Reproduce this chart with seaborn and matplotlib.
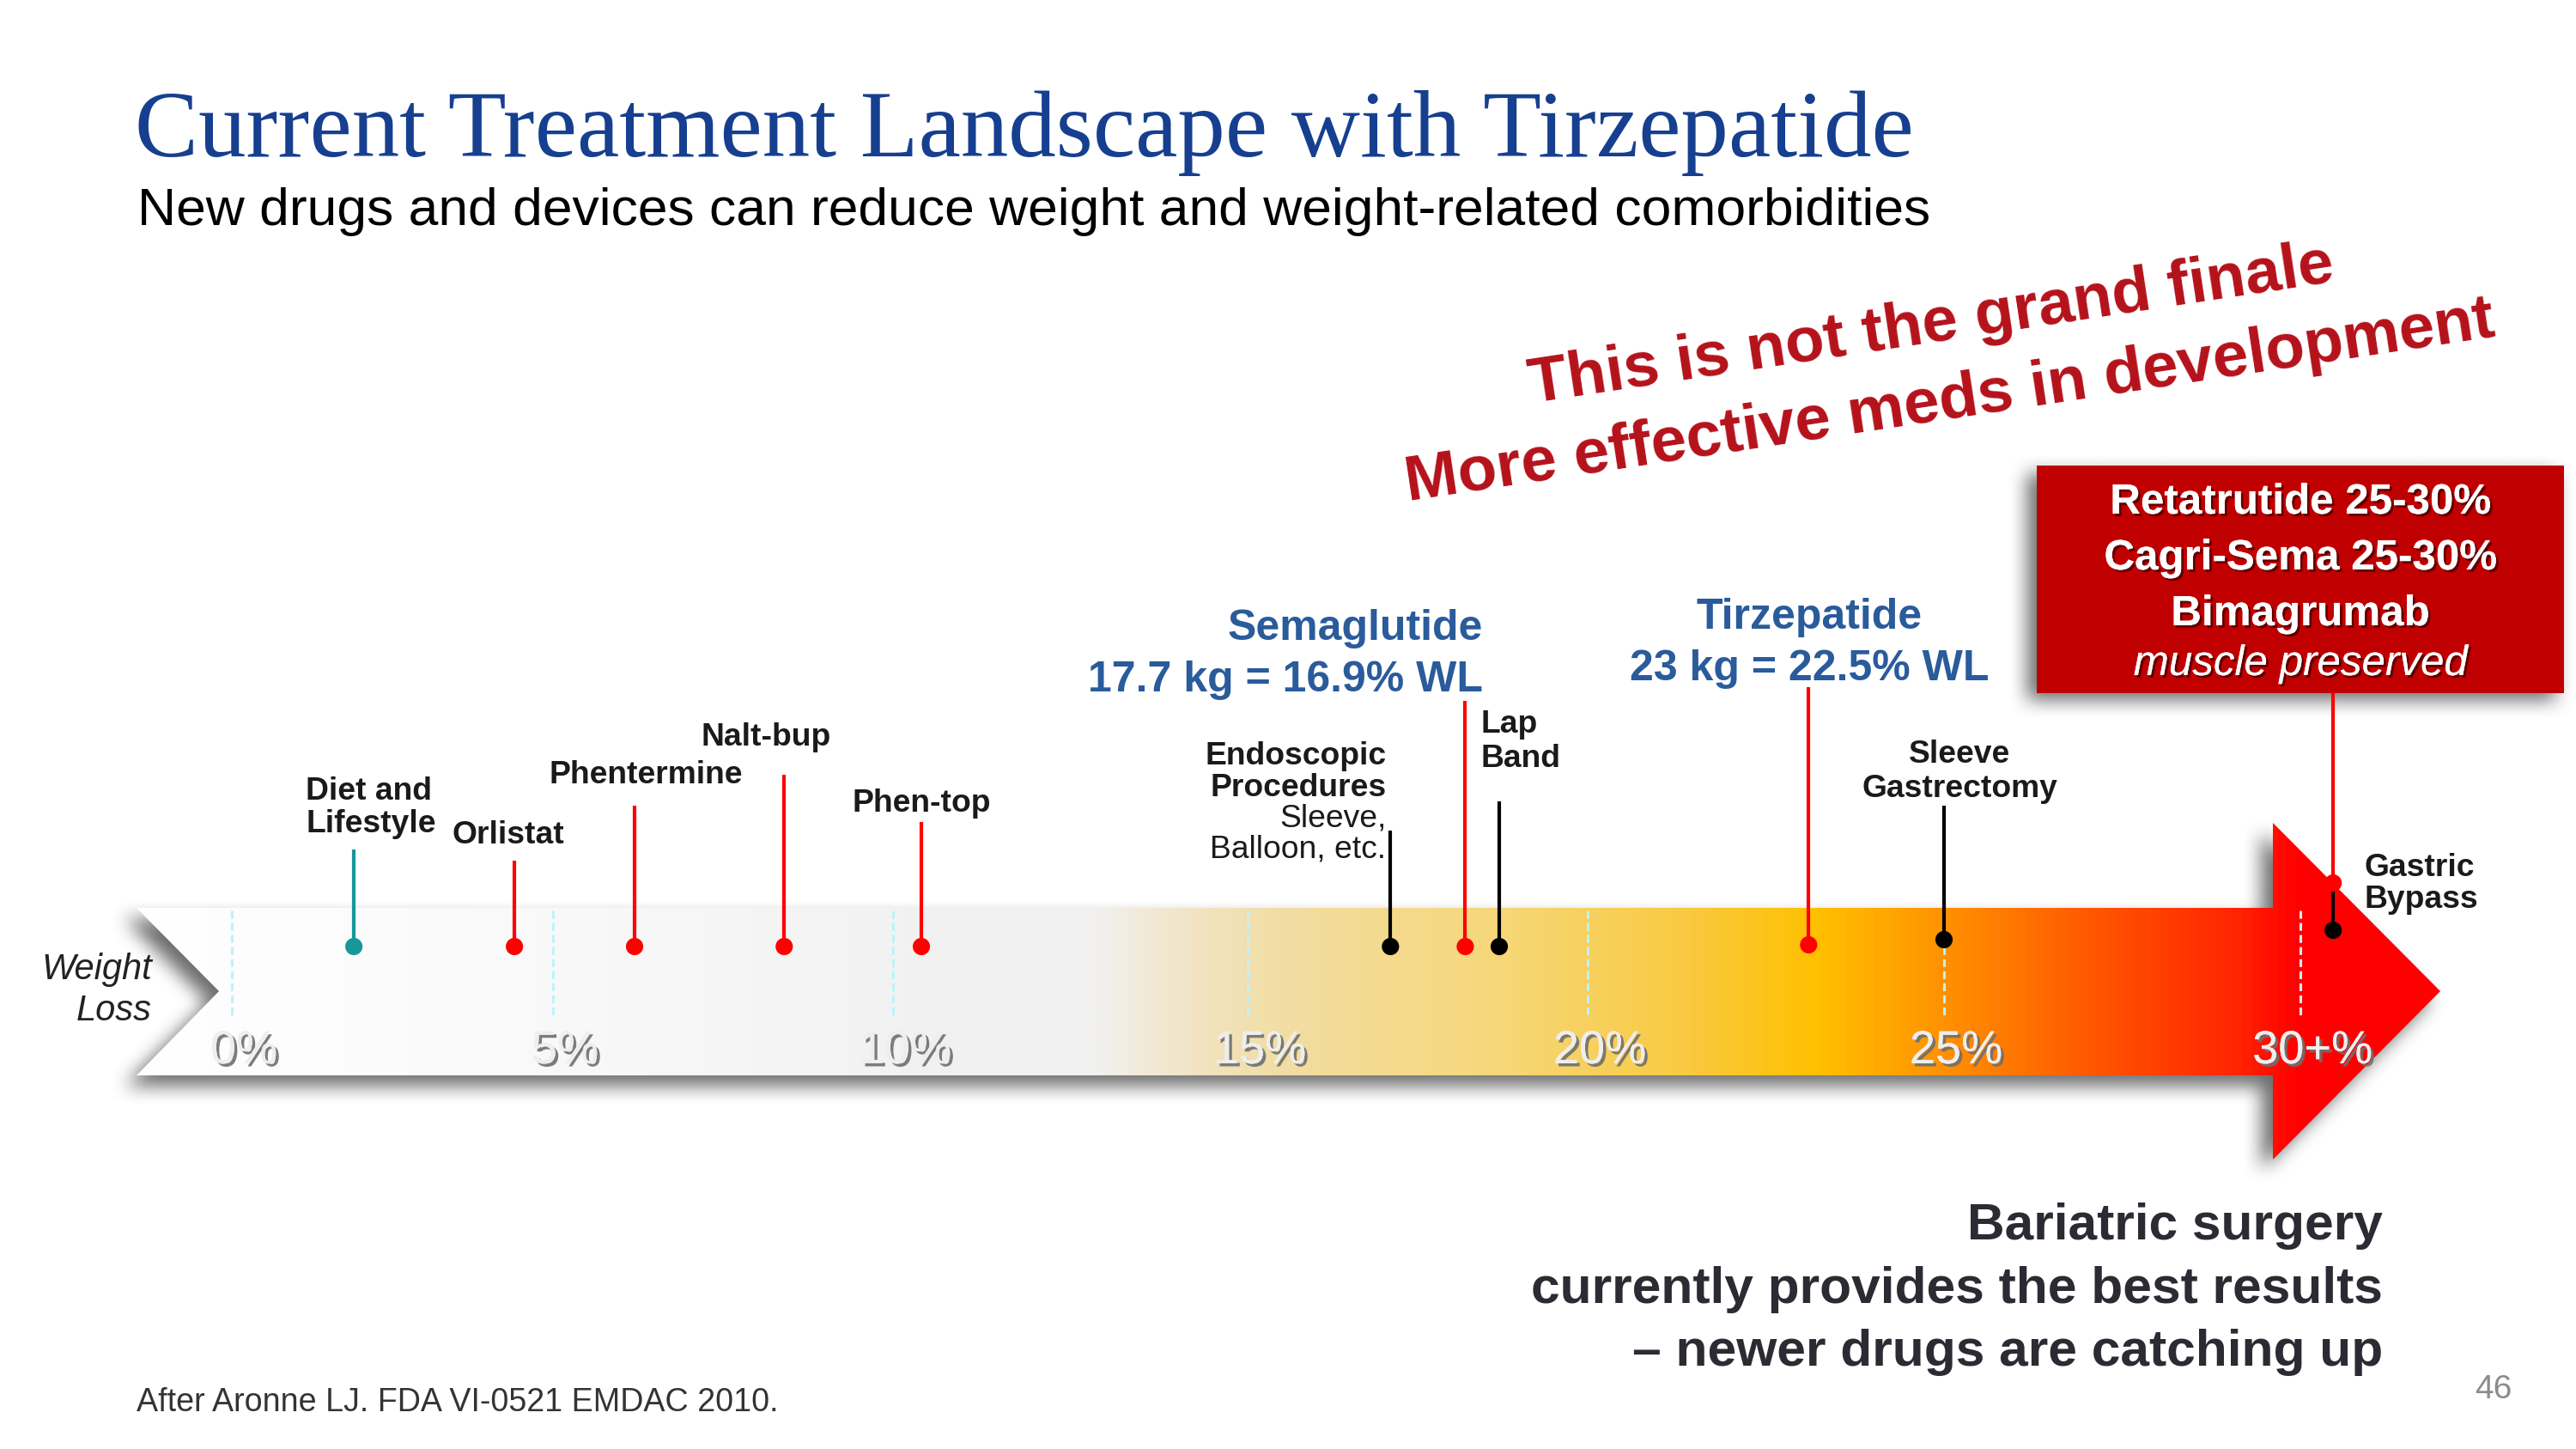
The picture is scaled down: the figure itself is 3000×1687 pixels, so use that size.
import numpy as np
import pandas as pd
import matplotlib
matplotlib.use("Agg")
import matplotlib.pyplot as plt
import matplotlib.patheffects as pe
from matplotlib.colors import LinearSegmentedColormap
from matplotlib.patches import Polygon, Rectangle
from matplotlib.path import Path
import seaborn as sns

# ---- data ----
items = ["Diet and Lifestyle", "Orlistat", "Phentermine", "Nalt-bup", "Phen-top",
         "Endoscopic Procedures", "Semaglutide", "Lap Band", "Tirzepatide",
         "Sleeve Gastrectomy", "Gastric Bypass", "Retatrutide / Cagri-Sema / Bimagrumab"]
weight_loss_pct = [1.9, 4.4, 6.2, 8.4, 10.4, 17.1, 18.2, 18.7, 23.1, 25.0, 30.46, 30.46]
kind = ["lifestyle", "drug", "drug", "drug", "drug", "procedure", "drug",
        "procedure", "drug", "procedure", "procedure", "drug"]

tick_pct = [0, 5, 10, 15, 20, 25, 30]
tick_labels = ["0%", "5%", "10%", "15%", "20%", "25%", "30+%"]

pipeline_lines = ["Retatrutide 25-30%", "Cagri-Sema 25-30%", "Bimagrumab", "muscle preserved"]

# ---- layout (pixels on the 3000 x 1687 slide, y downwards) ----
W, H = 3000, 1687
tick_px = [270, 644, 1040, 1453, 1849, 2264, 2679]   # the slide's ticks are not evenly spaced
stem_top = [989, 1002, 938, 902, 957, 967, 816, 933, 800, 938, 1038, 807]
dot_y = [1102, 1102, 1102, 1102, 1102, 1102, 1102, 1102, 1100, 1094, 1083, 1028]

# (item, text, dx from stem in px, baseline y, alignment, style)
label_lines = [
    (0, "Diet and", -56, 931, "left", "name"),
    (0, "Lifestyle", -56, 969, "left", "name"),
    (1, "Orlistat", -7, 982, "center", "name"),
    (2, "Phentermine", 13, 912, "center", "name"),
    (3, "Nalt-bup", -21, 868, "center", "name"),
    (4, "Phen-top", 0, 945, "center", "name"),
    (5, "Endoscopic", -5, 890, "right", "name"),
    (5, "Procedures", -5, 927, "right", "name"),
    (5, "Sleeve,", -5, 962, "right", "note"),
    (5, "Balloon, etc.", -5, 998, "right", "note"),
    (6, "Semaglutide", 21, 745, "right", "glp"),
    (6, "17.7 kg = 16.9% WL", 21, 805, "right", "glp"),
    (7, "Lap", -22, 853, "left", "name"),
    (7, "Band", -22, 893, "left", "name"),
    (8, "Tirzepatide", 1, 732, "center", "glp"),
    (8, "23 kg = 22.5% WL", 1, 792, "center", "glp"),
    (9, "Sleeve", 18, 888, "center", "name"),
    (9, "Gastrectomy", 18, 928, "center", "name"),
    (10, "Gastric", 36, 1020, "left", "name"),
    (10, "Bypass", 36, 1057, "left", "name"),
]
styles = {
    "name": dict(fontsize=26.8, fontweight="bold", color="#1a1a1a"),
    "note": dict(fontsize=26.8, fontweight="normal", color="#1a1a1a"),
    "glp": dict(fontsize=36, fontweight="bold", color="#2A5B9B"),
}
kind_colors = {"lifestyle": "#17979C", "drug": "#FF0000", "procedure": "#000000"}

arrow = [(159, 1057), (2647, 1057), (2647, 958), (2842, 1154), (2647, 1350),
         (2647, 1252), (159, 1252), (255, 1154)]
box = (2372, 542, 614, 265)
grad_stops = [(159, "#FFFFFF"), (700, "#F8F8F8"), (1100, "#F1F1F1"), (1270, "#F1F1F1"),
              (1390, "#F1E4C3"), (1500, "#F2DDA2"), (1750, "#F6D778"), (1960, "#F9CA43"),
              (2120, "#FFC000"), (2290, "#FF8A00"), (2450, "#FF5400"), (2610, "#FF2400"),
              (2680, "#FF0000"), (2842, "#FF0000")]

df = pd.DataFrame({"item": items, "pct": weight_loss_pct, "kind": kind,
                   "stem_top": stem_top, "dot_y": dot_y})
df["color"] = df["kind"].map(kind_colors)


# piecewise-linear x scale through the slide's tick positions
def _interp(v, xs, ys):
    v = np.asarray(v, dtype=float)
    lo = ys[0] + (v - xs[0]) * (ys[1] - ys[0]) / (xs[1] - xs[0])
    hi = ys[-1] + (v - xs[-1]) * (ys[-1] - ys[-2]) / (xs[-1] - xs[-2])
    return np.where(v < xs[0], lo, np.where(v > xs[-1], hi, np.interp(v, xs, ys)))


def pct_to_px(v):
    return _interp(v, tick_pct, tick_px)


def px_to_pct(p):
    return _interp(p, tick_px, tick_pct)


sns.set_theme(style="white")
plt.rcParams["font.family"] = ["Liberation Sans", "DejaVu Sans"]

fig = plt.figure(figsize=(30, 16.87), dpi=100)
bg = fig.add_axes([0, 0, 1, 1])
ax = fig.add_axes([0, 0, 1, 1])
ax.patch.set_alpha(0)


def box_blur(a, r):
    k = np.ones(2 * r + 1) / (2 * r + 1)
    for axis in (0, 1):
        a = np.apply_along_axis(lambda v: np.convolve(v, k, mode="same"), axis, a)
    return a


# soft drop shadow under the arrow and the red box
step = 3
gx, gy = np.meshgrid(np.arange(0, W, step) + 1.5, np.arange(0, H, step) + 1.5)
pts = np.column_stack([gx.ravel(), gy.ravel()])
arrow_sh = [(x - 12, y + 14) for x, y in arrow]
bx, by, bw, bh = box
box_sh = [(bx - 10, by + 10), (bx + bw - 10, by + 10), (bx + bw - 10, by + bh + 10), (bx - 10, by + bh + 10)]
mask = Path(arrow_sh).contains_points(pts) | Path(box_sh).contains_points(pts)
shadow = mask.reshape(gx.shape).astype(float)
shadow = box_blur(box_blur(shadow, 4), 3)
rgba = np.zeros(shadow.shape + (4,))
rgba[..., :3] = 0.2
rgba[..., 3] = shadow * 0.72
bg.imshow(rgba, extent=(0, W, H, 0), aspect="auto", interpolation="bilinear", zorder=1)

# gradient arrow
x0, x1 = arrow[0][0], arrow[3][0]
cmap = LinearSegmentedColormap.from_list("arrow", [((x - x0) / (x1 - x0), c) for x, c in grad_stops])
grad = bg.imshow(np.linspace(0, 1, 1500)[None, :], cmap=cmap, extent=(x0, x1, 1350, 958),
                 aspect="auto", zorder=2)
clip = Polygon(arrow, closed=True, facecolor="none", edgecolor="none")
bg.add_patch(clip)
grad.set_clip_path(clip)

# red pipeline box
bg.add_patch(Rectangle((bx, by), bw, bh, facecolor="#C00000", edgecolor="none", zorder=3))
txt_shadow = [pe.withSimplePatchShadow(offset=(2, -2), shadow_rgbFace="#3a0000", alpha=0.7), pe.Normal()]
for txt, base in zip(pipeline_lines, [598, 663, 728, 786]):
    italic = txt == "muscle preserved"
    bg.text(bx + bw / 2, base, txt, ha="center", va="baseline", color="white", fontsize=35.5,
            fontweight="normal" if italic else "bold", fontstyle="italic" if italic else "normal",
            path_effects=txt_shadow, zorder=4)

bg.set_xlim(0, W)
bg.set_ylim(H, 0)
bg.axis("off")

renderer = fig.canvas.get_renderer()


def fit(t, width_px):
    w = t.get_window_extent(renderer=renderer).width
    t.set_fontsize(t.get_fontsize() * width_px / w)


# titles
title = bg.text(157, 182, "Current Treatment Landscape with Tirzepatide", ha="left", va="baseline",
                fontsize=78, color="#163F8F", family=["Liberation Serif", "DejaVu Serif"])
fit(title, 2072)
sub = bg.text(160, 262, "New drugs and devices can reduce weight and weight-related comorbidities",
              ha="left", va="baseline", fontsize=43, color="black")
fit(sub, 2087)

# rotated red remark
red1 = bg.text(2252, 398, "This is not the grand finale", ha="center", va="baseline",
               fontsize=54, fontweight="bold", color="#B5121B", rotation_mode="anchor")
red2 = bg.text(2274, 487, "More effective meds in development", ha="center", va="baseline",
               fontsize=54, fontweight="bold", color="#B5121B", rotation_mode="anchor")
fit(red2, 1284)
red1.set_fontsize(red2.get_fontsize())
red1.set_rotation(8.6)
red2.set_rotation(8.6)

# bottom remark, footnote, page number
bottom = ["Bariatric surgery", "currently provides the best results", "\u2013 newer drugs are catching up"]
bt = [bg.text(2775, y, s, ha="right", va="baseline", fontsize=43, fontweight="bold", color="#2B2B33")
      for s, y in zip(bottom, [1443, 1517, 1590])]
fit(bt[1], 992)
for t in bt:
    t.set_fontsize(bt[1].get_fontsize())
foot = bg.text(159, 1643, "After Aronne LJ. FDA VI-0521 EMDAC 2010.", ha="left", va="baseline",
               fontsize=27, color="#333333")
fit(foot, 746)
bg.text(2904, 1628, "46", ha="center", va="baseline", fontsize=28, color="#8C8C8C")

bg.text(177, 1140, "Weight", ha="right", va="baseline", fontsize=30, fontstyle="italic", color="#222222")
bg.text(177, 1188, "Loss", ha="right", va="baseline", fontsize=30, fontstyle="italic", color="#222222")

# ---- weight-loss scale ----
ax.set_xscale("function", functions=(pct_to_px, px_to_pct))
ax.vlines(tick_pct, 1060, 1183, colors="#BDF3F8", linestyles=(0, (3, 1.6)), lw=2.2, zorder=3)
tick_fx = [pe.withSimplePatchShadow(offset=(2.5, -2.5), shadow_rgbFace="#6f6f6f", alpha=0.9), pe.Normal()]
for t, lab in zip(tick_pct, tick_labels):
    ax.annotate(lab, xy=(t, 1238), xytext=(14, 0), textcoords="offset pixels", ha="center",
                va="baseline", fontsize=39, color="#EEEEEE", path_effects=tick_fx, zorder=4)

ax.vlines(df["pct"], df["stem_top"], df["dot_y"], colors=df["color"], lw=3, zorder=5)
sns.scatterplot(data=df, x="pct", y="dot_y", hue="kind", palette=kind_colors, s=210,
                edgecolor="none", legend=False, ax=ax, zorder=6)

for i, text, dx, base, ha, st in label_lines:
    ax.annotate(text, xy=(df["pct"][i], base), xytext=(dx, 0), textcoords="offset pixels",
                ha=ha, va="baseline", zorder=7, **styles[st])

ax.set_xlim(float(px_to_pct(0)), float(px_to_pct(W)))
ax.set_ylim(H, 0)
ax.axis("off")

fig.savefig("out.png", dpi=100, facecolor="white")
